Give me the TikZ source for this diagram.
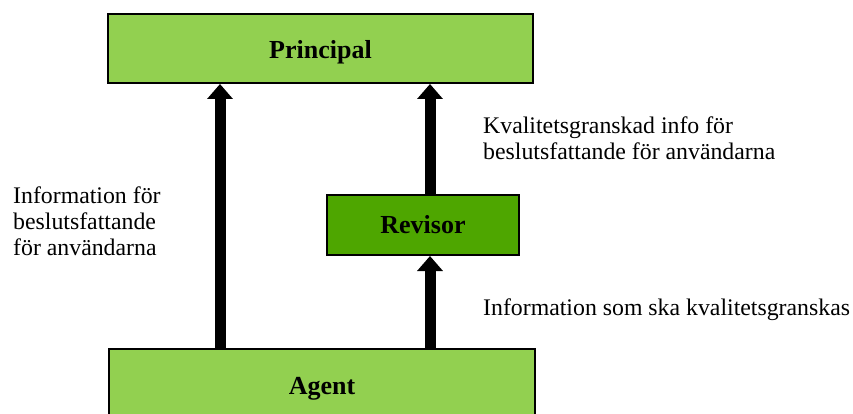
\documentclass[tikz,border=0pt]{standalone}
\usepackage{fontspec}
\setmainfont{Liberation Serif}
\usetikzlibrary{arrows.meta}
\definecolor{lightgreen}{HTML}{92D050}
\definecolor{darkgreen}{HTML}{4EA600}
\tikzset{
  box/.style={draw=black, line width=2pt, inner sep=0pt, text depth=0pt, text height=21pt, font=\fontsize{26}{28}\selectfont\bfseries},
  flow/.style={line width=11pt, -{Triangle[width=25pt,length=15pt]}},
  lbl/.style={inner sep=0pt, align=left, font=\fontsize{23.8}{26}\selectfont},
}
\begin{document}
\begin{tikzpicture}[x=1pt,y=-1pt]
\clip (0,0) rectangle (853,414);
\fill[white] (0,0) rectangle (853,414);
\node[box, fill=lightgreen, minimum width=425pt, minimum height=69pt] (principal) at (320.5,48.5) {Principal};
\node[box, fill=darkgreen, minimum width=192pt, minimum height=60pt, text height=16pt] (revisor) at (423,225) {Revisor};
\node[box, fill=lightgreen, minimum width=426pt, minimum height=69pt] (agent) at (322,383.5) {Agent};
\coordinate (l) at (220,0);
\coordinate (r) at (430,0);
\draw[flow] (agent.north -| l) -- (principal.south -| l);
\draw[flow] (agent.north -| r) -- (revisor.south -| r);
\draw[flow] (revisor.north -| r) -- (principal.south -| r);
\node[lbl, anchor=north west] (t1) at (13,186.5) {Information för\\beslutsfattande\\för användarna};
\node[lbl, anchor=north west] (t2) at (483,116.5) {Kvalitetsgranskad info för\\beslutsfattande för användarna};
\node[lbl, anchor=base west] (t3) at (483,315) {Information som ska kvalitetsgranskas};
\end{tikzpicture}
\end{document}
